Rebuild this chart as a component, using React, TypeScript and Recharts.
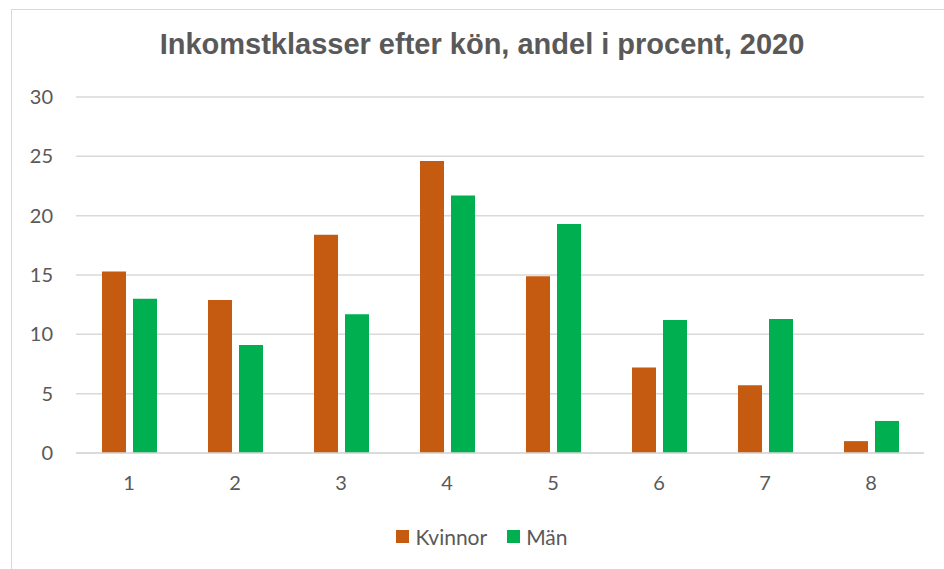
import { BarChart, Bar, CartesianGrid, XAxis, YAxis } from "recharts";

const klasser = ["1", "2", "3", "4", "5", "6", "7", "8"];
const kvinnor = [15.3, 12.9, 18.4, 24.6, 14.9, 7.2, 5.7, 1.0];
const man = [13.0, 9.1, 11.7, 21.7, 19.3, 11.2, 11.3, 2.7];
const yTicks = [0, 5, 10, 15, 20, 25, 30];

const series = [
  { key: "Kvinnor", color: "#C55A11" },
  { key: "Män", color: "#00B050" },
];

const data = klasser.map((k, i) => ({ klass: k, Kvinnor: kvinnor[i], "Män": man[i] }));

const fontFamily = "Lato, 'Open Sans', sans-serif";
const axisFont = { fontFamily, fontSize: 20, fill: "#595959" };

export default function App() {
  return (
    <div style={{ position: "absolute", left: 11, top: 9, width: 940, height: 570, border: "1px solid #d9d9d9", background: "#fff" }}>
      <div
        style={{
          position: "absolute", top: 18, left: 0, width: 940, textAlign: "center",
          fontFamily: "'Liberation Sans', Arial, sans-serif", fontWeight: "bold", fontSize: 29, color: "#595959",
        }}
      >
        Inkomstklasser efter kön, andel i procent, 2020
      </div>
      <BarChart width={940} height={560} data={data} margin={{ top: 87, right: 28, left: 0, bottom: 77 }} barSize={24} barGap={7}>
        <CartesianGrid vertical={false} stroke="#d9d9d9" strokeWidth={1.5} />
        <XAxis dataKey="klass" axisLine={{ stroke: "#d9d9d9", strokeWidth: 1.5 }} tickLine={false} tickSize={0} tickMargin={23} tick={axisFont} height={40} />
        <YAxis domain={[0, 30]} ticks={yTicks} axisLine={false} tickLine={false} tickSize={0} tickMargin={23} tick={axisFont} width={64} />
        {series.map((s) => (
          <Bar key={s.key} dataKey={s.key} fill={s.color} isAnimationActive={false} />
        ))}
      </BarChart>
      <div
        style={{
          position: "absolute", top: 514, left: 0, width: 940, display: "flex", justifyContent: "center", gap: 20,
          fontFamily, fontSize: 21, color: "#595959",
        }}
      >
        {series.map((s) => (
          <div key={s.key} style={{ display: "flex", alignItems: "center", gap: 6 }}>
            <div style={{ width: 13, height: 13, background: s.color }} />
            <span>{s.key}</span>
          </div>
        ))}
      </div>
    </div>
  );
}
